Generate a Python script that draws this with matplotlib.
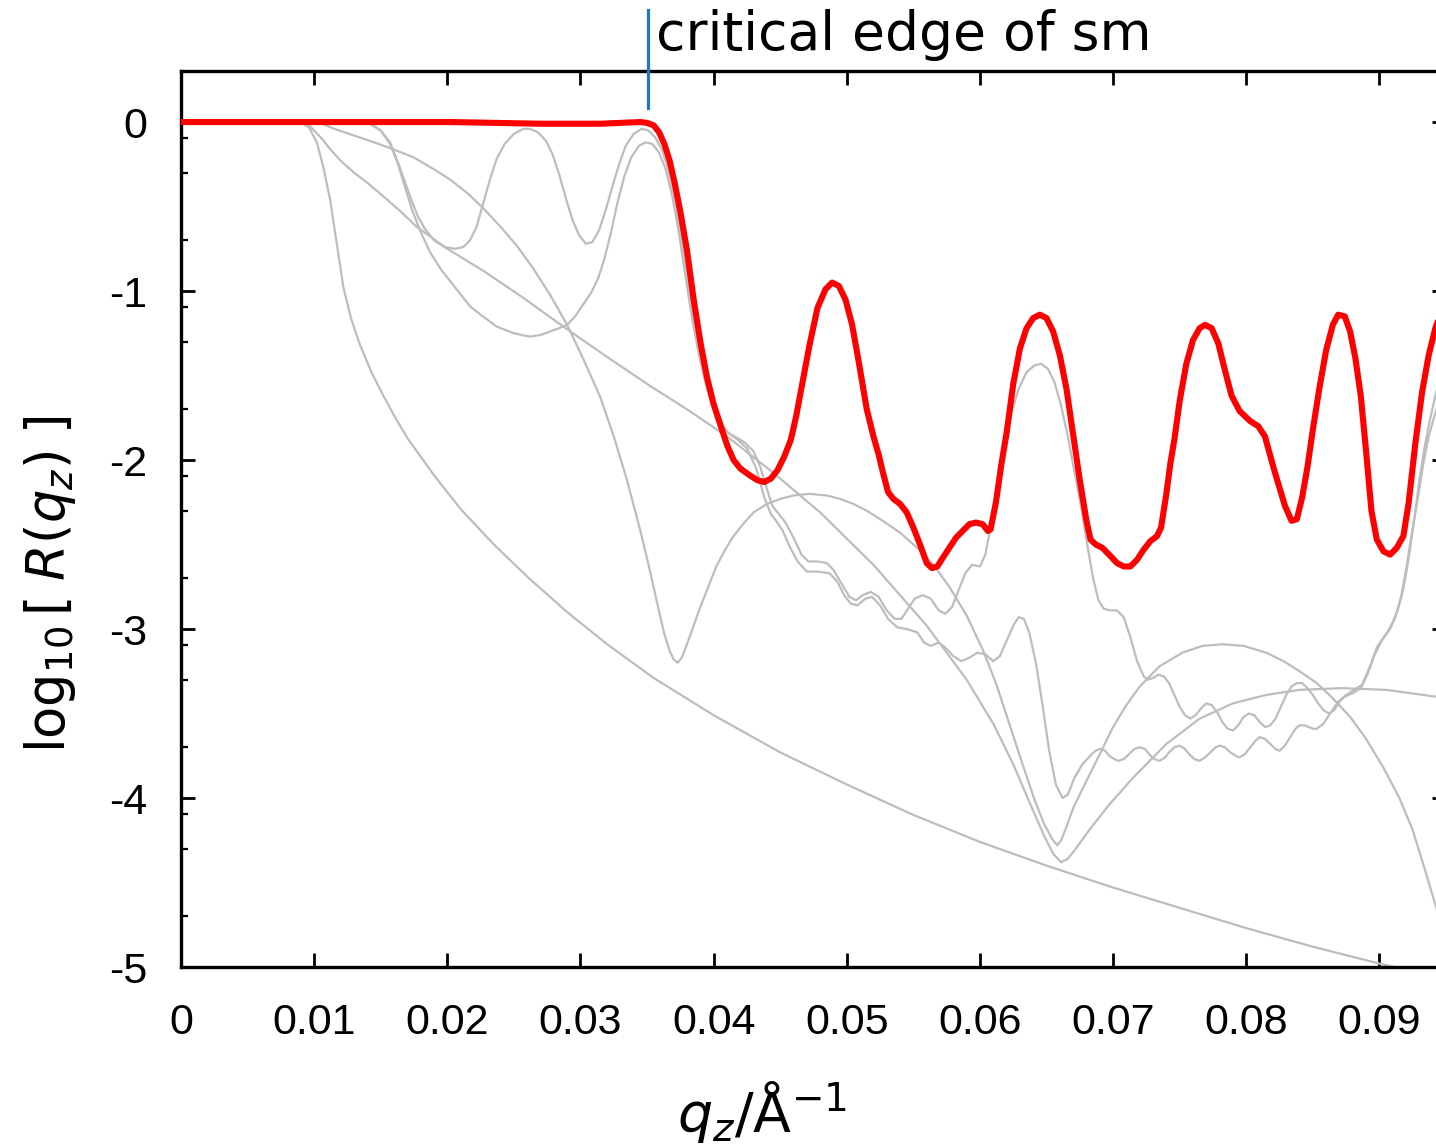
import numpy as np
import matplotlib
matplotlib.use("Agg")
import matplotlib.pyplot as plt

# ---------------- data (q_z in 1/Angstrom, log10 R) ----------------
q_red = [0, 0.0089, 0.0202, 0.0270, 0.0315, 0.0345, 0.0350, 0.0355, 0.0359, 0.0363, 0.0367,
         0.0371, 0.0375, 0.0380, 0.0385, 0.0390, 0.0395, 0.0400, 0.0405, 0.0410, 0.0415,
         0.0420, 0.0427, 0.0433, 0.0438, 0.0443, 0.0448, 0.0453, 0.0458, 0.0462, 0.0467,
         0.0472, 0.0478, 0.0484, 0.0489, 0.0494, 0.0499, 0.0504, 0.0509, 0.0515, 0.0520,
         0.0524, 0.0527, 0.0531, 0.0535, 0.0540, 0.0545, 0.0550, 0.0555, 0.0560, 0.0564,
         0.0568, 0.0572, 0.0577, 0.0582, 0.0587, 0.0592, 0.0597, 0.0602, 0.0606, 0.0608,
         0.0612, 0.0616, 0.0620, 0.0625, 0.0630, 0.0635, 0.0640, 0.0645, 0.0650, 0.0655,
         0.0660, 0.0665, 0.0670, 0.0675, 0.0680, 0.0683, 0.0687, 0.0692, 0.0697, 0.0703,
         0.0708, 0.0713, 0.0718, 0.0723, 0.0728, 0.0733, 0.0736, 0.0740, 0.0743, 0.0746,
         0.0750, 0.0755, 0.0760, 0.0765, 0.0769, 0.0774, 0.0779, 0.0784, 0.0789, 0.0795,
         0.0803, 0.0809, 0.0814, 0.0821, 0.0829, 0.0834, 0.0838, 0.0842, 0.0846, 0.0850,
         0.0855, 0.0860, 0.0865, 0.0869, 0.0874, 0.0878, 0.0882, 0.0886, 0.0890, 0.0894,
         0.0898, 0.0903, 0.0908, 0.0913, 0.0918, 0.0922, 0.0927, 0.0932, 0.0937, 0.0942,
         0.0950]
L_red = [0, 0, 0, -0.01, -0.01, 0, -0.005, -0.02, -0.06, -0.13, -0.23,
         -0.37, -0.53, -0.76, -1.05, -1.30, -1.51, -1.67, -1.79, -1.91, -2.00,
         -2.05, -2.09, -2.12, -2.13, -2.11, -2.06, -1.98, -1.88, -1.74, -1.53,
         -1.32, -1.10, -0.99, -0.95, -0.97, -1.05, -1.20, -1.42, -1.70, -1.86,
         -1.97, -2.07, -2.19, -2.23, -2.26, -2.31, -2.40, -2.50, -2.61, -2.64,
         -2.63, -2.58, -2.52, -2.46, -2.42, -2.38, -2.37, -2.38, -2.42, -2.41,
         -2.25, -2.03, -1.84, -1.55, -1.34, -1.22, -1.16, -1.14, -1.16, -1.24,
         -1.38, -1.58, -1.85, -2.12, -2.36, -2.47, -2.50, -2.52, -2.56, -2.61,
         -2.63, -2.63, -2.59, -2.53, -2.48, -2.45, -2.40, -2.20, -2.02, -1.88,
         -1.65, -1.43, -1.29, -1.22, -1.20, -1.22, -1.31, -1.47, -1.62, -1.71,
         -1.77, -1.80, -1.86, -2.06, -2.27, -2.36, -2.35, -2.22, -2.04, -1.82,
         -1.57, -1.35, -1.20, -1.14, -1.15, -1.24, -1.40, -1.62, -1.95, -2.30,
         -2.47, -2.54, -2.56, -2.52, -2.45, -2.25, -1.90, -1.60, -1.38, -1.22,
         -1.04]

# fringe curve a (bump at 0.026, grey peak at 0.0645)
q_fa = [0, 0.0135, 0.0142, 0.0150, 0.0157, 0.0163, 0.0168, 0.0173, 0.0178, 0.0183, 0.0190,
        0.0198, 0.0206, 0.0212, 0.0217, 0.0222, 0.0227, 0.0232, 0.0237, 0.0243, 0.0250,
        0.0257, 0.0262, 0.0268, 0.0274, 0.0279, 0.0284, 0.0289, 0.0294, 0.0299, 0.0304,
        0.0309, 0.0314, 0.0319, 0.0324, 0.0329, 0.0334, 0.0340, 0.0346, 0.0351, 0.0356,
        0.0361, 0.0366, 0.0371, 0.0376, 0.0381, 0.0386, 0.0391, 0.0396, 0.0401, 0.0406,
        0.0411, 0.0418, 0.0424, 0.0430, 0.0435, 0.0440, 0.0444, 0.0449, 0.0454, 0.0460,
        0.0466, 0.0471, 0.0478, 0.0485, 0.0490, 0.0496, 0.0502, 0.0507, 0.0512, 0.0518,
        0.0524, 0.0530, 0.0536, 0.0541, 0.0546, 0.0551, 0.0557, 0.0563, 0.0569, 0.0574,
        0.0579, 0.0584, 0.0589, 0.0594, 0.0600, 0.0604, 0.0608, 0.0613, 0.0618, 0.0623,
        0.0629, 0.0635, 0.0641, 0.0646, 0.0651, 0.0656, 0.0661, 0.0666, 0.0671, 0.0676,
        0.0681, 0.0685, 0.0689, 0.0693, 0.0698, 0.0703, 0.0708, 0.0713, 0.0718, 0.0723,
        0.0726, 0.0730, 0.0734, 0.0738, 0.0742, 0.0746, 0.0750, 0.0754, 0.0758, 0.0762,
        0.0766, 0.0770, 0.0774, 0.0778, 0.0782, 0.0786, 0.0790, 0.0794, 0.0798, 0.0802,
        0.0806, 0.0810, 0.0814, 0.0818, 0.0822, 0.0826, 0.0830, 0.0834, 0.0838, 0.0842,
        0.0846, 0.0850, 0.0854, 0.0858, 0.0862, 0.0866, 0.0870, 0.0874, 0.0880, 0.0886,
        0.0891, 0.0896, 0.0901, 0.0906, 0.0910, 0.0914, 0.0918, 0.0922, 0.0926, 0.0930,
        0.0934, 0.0938, 0.0942, 0.0950]
L_fa = [0, 0, -0.01, -0.05, -0.12, -0.24, -0.35, -0.46, -0.56, -0.63, -0.70,
        -0.74, -0.75, -0.74, -0.70, -0.62, -0.48, -0.34, -0.22, -0.13, -0.07,
        -0.04, -0.04, -0.06, -0.11, -0.19, -0.31, -0.45, -0.58, -0.67, -0.72,
        -0.71, -0.64, -0.52, -0.38, -0.25, -0.14, -0.07, -0.04, -0.05, -0.09,
        -0.16, -0.28, -0.46, -0.70, -0.96, -1.20, -1.40, -1.57, -1.70, -1.79,
        -1.84, -1.87, -1.90, -1.95, -2.04, -2.17, -2.27, -2.32, -2.37, -2.46,
        -2.56, -2.60, -2.60, -2.61, -2.65, -2.73, -2.81, -2.83, -2.80, -2.78,
        -2.81, -2.89, -2.94, -2.94, -2.88, -2.82, -2.80, -2.82, -2.89, -2.91,
        -2.87, -2.77, -2.67, -2.62, -2.63, -2.56, -2.40, -2.16, -1.94, -1.74,
        -1.58, -1.48, -1.44, -1.43, -1.46, -1.54, -1.68, -1.86, -2.07, -2.28,
        -2.52, -2.70, -2.83, -2.88, -2.89, -2.89, -2.93, -3.05, -3.19, -3.28,
        -3.30, -3.29, -3.27, -3.28, -3.32, -3.39, -3.46, -3.51, -3.53, -3.51,
        -3.47, -3.44, -3.45, -3.49, -3.55, -3.59, -3.60, -3.57, -3.52, -3.50,
        -3.51, -3.55, -3.58, -3.57, -3.53, -3.46, -3.39, -3.34, -3.32, -3.32,
        -3.35, -3.39, -3.44, -3.48, -3.50, -3.48, -3.43, -3.40, -3.38, -3.35,
        -3.27, -3.16, -3.08, -3.02, -2.96, -2.88, -2.76, -2.58, -2.36, -2.12,
        -1.92, -1.76, -1.62, -1.36]

# fringe curve b (minimum at 0.027, bump at 0.063)
q_fb = [0, 0.0135, 0.0142, 0.0150, 0.0157, 0.0163, 0.0168, 0.0174, 0.0180, 0.0187, 0.0195,
        0.0202, 0.0210, 0.0217, 0.0225, 0.0237, 0.0250, 0.0262, 0.0270, 0.0277, 0.0284,
        0.0290, 0.0296, 0.0302, 0.0308, 0.0313, 0.0318, 0.0323, 0.0328, 0.0333, 0.0338,
        0.0344, 0.0349, 0.0354, 0.0359, 0.0364, 0.0369, 0.0374, 0.0379, 0.0384, 0.0389,
        0.0394, 0.0399, 0.0405, 0.0411, 0.0418, 0.0425, 0.0432, 0.0438, 0.0443, 0.0447,
        0.0452, 0.0457, 0.0463, 0.0470, 0.0478, 0.0487, 0.0493, 0.0498, 0.0503, 0.0508,
        0.0514, 0.0519, 0.0525, 0.0531, 0.0538, 0.0545, 0.0553, 0.0558, 0.0563, 0.0569,
        0.0574, 0.0580, 0.0586, 0.0592, 0.0598, 0.0604, 0.0610, 0.0615, 0.0620, 0.0625,
        0.0629, 0.0633, 0.0637, 0.0642, 0.0647, 0.0652, 0.0657, 0.0662, 0.0666, 0.0671,
        0.0677, 0.0684, 0.0687, 0.0690, 0.0694, 0.0697, 0.0701, 0.0704, 0.0708, 0.0712,
        0.0716, 0.0720, 0.0724, 0.0727, 0.0731, 0.0735, 0.0739, 0.0742, 0.0746, 0.0750,
        0.0754, 0.0757, 0.0761, 0.0765, 0.0769, 0.0773, 0.0777, 0.0780, 0.0784, 0.0788,
        0.0792, 0.0795, 0.0799, 0.0803, 0.0807, 0.0810, 0.0814, 0.0818, 0.0822, 0.0825,
        0.0829, 0.0833, 0.0837, 0.0840, 0.0844, 0.0847, 0.0850, 0.0853, 0.0858, 0.0863,
        0.0869, 0.0875, 0.0881, 0.0887, 0.0893, 0.0898, 0.0903, 0.0908, 0.0912, 0.0916,
        0.0920, 0.0924, 0.0929, 0.0933, 0.0937, 0.0942, 0.0950]
L_fb = [0, 0, -0.01, -0.05, -0.13, -0.25, -0.38, -0.53, -0.65, -0.77, -0.87,
        -0.94, -1.02, -1.09, -1.14, -1.21, -1.25, -1.27, -1.26, -1.24, -1.22,
        -1.20, -1.15, -1.08, -1.01, -0.93, -0.81, -0.65, -0.47, -0.32, -0.21,
        -0.14, -0.12, -0.13, -0.18, -0.28, -0.44, -0.66, -0.92, -1.17, -1.38,
        -1.55, -1.68, -1.78, -1.84, -1.88, -1.93, -2.05, -2.22, -2.32, -2.36,
        -2.42, -2.51, -2.60, -2.66, -2.66, -2.67, -2.72, -2.80, -2.85, -2.86,
        -2.82, -2.81, -2.86, -2.94, -2.99, -3.00, -3.02, -3.08, -3.10, -3.08,
        -3.11, -3.16, -3.19, -3.17, -3.14, -3.15, -3.19, -3.16, -3.07, -2.98,
        -2.93, -2.94, -3.02, -3.20, -3.45, -3.72, -3.92, -4.00, -3.98, -3.88,
        -3.80, -3.74, -3.72, -3.71, -3.72, -3.75, -3.77, -3.78, -3.77, -3.74,
        -3.71, -3.70, -3.71, -3.74, -3.77, -3.78, -3.76, -3.73, -3.70, -3.69,
        -3.71, -3.74, -3.77, -3.78, -3.76, -3.73, -3.70, -3.69, -3.70, -3.73,
        -3.75, -3.76, -3.74, -3.70, -3.66, -3.64, -3.65, -3.68, -3.71, -3.72,
        -3.69, -3.64, -3.59, -3.57, -3.57, -3.58, -3.59, -3.59, -3.56, -3.50,
        -3.43, -3.39, -3.36, -3.33, -3.22, -3.11, -3.05, -3.00, -2.93, -2.82,
        -2.65, -2.45, -2.22, -2.02, -1.86, -1.72, -1.50]

# smooth curve with sharp dip at 0.037
q_s1 = [0, 0.0100, 0.0106, 0.0115, 0.0130, 0.0145, 0.0159, 0.0175, 0.0190, 0.0202, 0.0215,
        0.0227, 0.0240, 0.0252, 0.0264, 0.0277, 0.0290, 0.0302, 0.0315, 0.0325, 0.0335,
        0.0345, 0.0352, 0.0358, 0.0363, 0.0367, 0.0370, 0.0373, 0.0376, 0.0380, 0.0385,
        0.0390, 0.0396, 0.0402, 0.0408, 0.0414, 0.0422, 0.0430, 0.0440, 0.0450, 0.0460,
        0.0472, 0.0485, 0.0495, 0.0505, 0.0515, 0.0527, 0.0540, 0.0553, 0.0565, 0.0577,
        0.0590, 0.0602, 0.0612, 0.0622, 0.0632, 0.0641, 0.0648, 0.0654, 0.0658, 0.0661,
        0.0665, 0.0670, 0.0678, 0.0690, 0.0700, 0.0710, 0.0720, 0.0735, 0.0752, 0.0767,
        0.0782, 0.0798, 0.0815, 0.0828, 0.0840, 0.0853, 0.0865, 0.0878, 0.0890, 0.0903,
        0.0915, 0.0925, 0.0934, 0.0942, 0.0950]
L_s1 = [0, 0, -0.01, -0.04, -0.08, -0.12, -0.16, -0.21, -0.28, -0.34, -0.42,
        -0.51, -0.62, -0.73, -0.86, -1.02, -1.20, -1.40, -1.63, -1.86, -2.12,
        -2.42, -2.65, -2.86, -3.03, -3.13, -3.18, -3.20, -3.17, -3.09, -2.98,
        -2.87, -2.75, -2.63, -2.54, -2.46, -2.38, -2.31, -2.26, -2.23, -2.21,
        -2.20, -2.21, -2.23, -2.26, -2.30, -2.36, -2.43, -2.52, -2.62, -2.75,
        -2.92, -3.12, -3.32, -3.56, -3.80, -4.01, -4.15, -4.24, -4.28, -4.25,
        -4.17, -4.06, -3.93, -3.74, -3.58, -3.45, -3.34, -3.22, -3.14, -3.10,
        -3.09, -3.10, -3.14, -3.19, -3.25, -3.32, -3.41, -3.52, -3.65, -3.82,
        -4.00, -4.19, -4.42, -4.63, -4.85]

# smooth, nearly straight decay
q_s2 = [0, 0.0090, 0.0095, 0.0100, 0.0106, 0.0112, 0.0120, 0.0130, 0.0140, 0.0152, 0.0165,
        0.0177, 0.0200, 0.0227, 0.0257, 0.0287, 0.0320, 0.0352, 0.0380, 0.0410, 0.0444,
        0.0480, 0.0520, 0.0560, 0.0590, 0.0610, 0.0625, 0.0638, 0.0648, 0.0655, 0.0661,
        0.0666, 0.0672, 0.0682, 0.0697, 0.0715, 0.0740, 0.0765, 0.0790, 0.0815, 0.0840,
        0.0872, 0.0905, 0.0942, 0.0950]
L_s2 = [0, 0, -0.01, -0.05, -0.10, -0.16, -0.23, -0.30, -0.36, -0.44, -0.53,
        -0.62, -0.75, -0.88, -1.04, -1.21, -1.39, -1.56, -1.70, -1.86, -2.07,
        -2.31, -2.62, -2.98, -3.30, -3.56, -3.80, -4.04, -4.22, -4.33, -4.38,
        -4.36, -4.30, -4.19, -4.04, -3.88, -3.68, -3.53, -3.44, -3.39, -3.36,
        -3.35, -3.36, -3.40, -3.41]

# lowest curve (steep early drop)
q_s3 = [0, 0.0089, 0.0096, 0.0102, 0.0107, 0.0112, 0.0117, 0.0122, 0.0128, 0.0134, 0.0143,
        0.0152, 0.0161, 0.0170, 0.0190, 0.0210, 0.0235, 0.0260, 0.0290, 0.0320, 0.0355,
        0.0400, 0.0450, 0.0500, 0.0550, 0.0600, 0.0650, 0.0700, 0.0750, 0.0800, 0.0850,
        0.0900, 0.0950]
L_s3 = [0, 0, -0.03, -0.12, -0.27, -0.46, -0.72, -0.98, -1.17, -1.31, -1.48,
        -1.62, -1.75, -1.87, -2.09, -2.29, -2.50, -2.69, -2.90, -3.09, -3.29,
        -3.51, -3.73, -3.92, -4.10, -4.26, -4.40, -4.53, -4.65, -4.77, -4.88,
        -4.98, -5.07]

q_crit = 0.0351
x_ticks = [0, 0.01, 0.02, 0.03, 0.04, 0.05, 0.06, 0.07, 0.08, 0.09]
x_ticklabels = ['0', '0.01', '0.02', '0.03', '0.04', '0.05', '0.06', '0.07', '0.08', '0.09']
y_ticks = [0, -1, -2, -3, -4, -5]
y_ticklabels = ['0', '-1', '-2', '-3', '-4', '-5']

# ---------------- figure ----------------
W, H = 1436, 1145
fig = plt.figure(figsize=(W / 100, H / 100), dpi=100)
ax = fig.add_axes([181 / W, (H - 967) / H, (1446 - 181) / W, (967 - 71) / H])

gray = '#bdbdbd'
for qq, LL in [(q_s3, L_s3), (q_s2, L_s2), (q_s1, L_s1), (q_fb, L_fb), (q_fa, L_fa)]:
    ax.plot(qq, LL, color=gray, lw=1.6, solid_joinstyle='round', solid_capstyle='round', zorder=2)
ax.plot(q_red, L_red, color='#ff0000', lw=4.4, solid_joinstyle='round', zorder=5)

ax.set_xlim(0, 0.095)
ax.set_ylim(-5, 0.302)

# critical edge marker
ax.plot([q_crit, q_crit], [0.083, 0.663], color='#1f78c8', lw=2.3, clip_on=False, zorder=6)
ax.text(q_crit + 0.0006, 0.426, 'critical edge of sm', fontsize=38.5, family='DejaVu Sans',
        ha='left', va='baseline', clip_on=False)

ax.set_xticks(x_ticks)
ax.set_xticklabels(x_ticklabels)
ax.set_yticks(y_ticks)
ax.set_yticklabels(y_ticklabels)
minor = []
for n in range(0, -5, -1):
    for m in (0.8, 0.5, 0.2):
        minor.append(n + np.log10(m))
ax.set_yticks(minor, minor=True)

for lab in ax.get_xticklabels() + ax.get_yticklabels():
    lab.set_family('Liberation Sans')
    lab.set_fontsize(31)

ax.tick_params(axis='both', which='major', direction='in', length=10, width=2,
               top=True, right=True, labeltop=False, labelright=False)
ax.tick_params(axis='x', which='major', pad=26)
ax.tick_params(axis='y', which='major', pad=24)
ax.tick_params(axis='y', which='minor', direction='in', length=5, width=1.6, left=True, right=True)
for s in ax.spines.values():
    s.set_linewidth(2.4)

fig.text(762 / W, 1 - 1112 / H, r'$q_z/\mathrm{\AA}^{-1}$', ha='center', va='center', fontsize=40)
fig.text(50 / W, 1 - 584 / H, r'$\mathrm{log}_{10}\,[\;R(q_z)\;]$', ha='center', va='center',
         rotation=90, fontsize=38)

fig.savefig('out.png', dpi=100)
